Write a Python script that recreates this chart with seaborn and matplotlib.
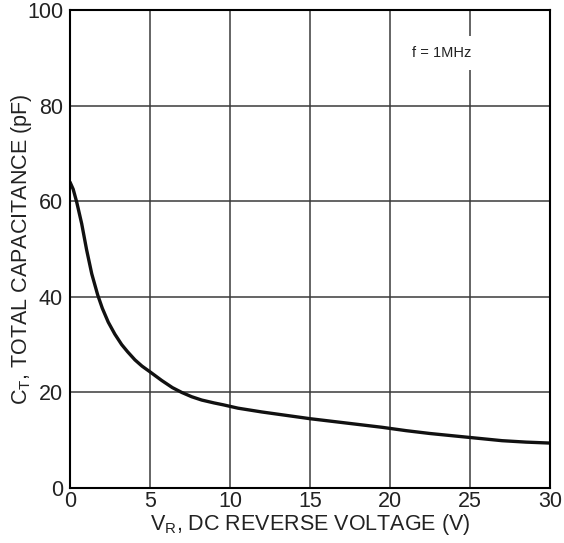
import matplotlib
matplotlib.use("Agg")
import matplotlib.pyplot as plt
import seaborn as sns
import pandas as pd

# Data
voltage = [0.0, 0.2, 0.42, 0.73, 1.04, 1.36, 1.73, 2.02, 2.39, 2.8, 3.23, 3.6, 4.06, 4.5, 5.0, 5.73, 6.4, 6.98, 7.6, 8.23, 9.0, 9.58,
           10.5, 12.0, 13.5, 15.0, 16.5, 18.0, 19.5, 21.0, 22.5, 24.0, 25.5, 27.0, 28.5, 30.0]
capacitance = [64.0, 62.5, 59.8, 55.3, 49.8, 44.8, 40.4, 37.6, 34.7, 32.2, 30.0, 28.5, 26.8, 25.5, 24.3, 22.5, 21.0, 20.0, 19.1, 18.4, 17.8, 17.4,
               16.7, 15.9, 15.2, 14.5, 13.9, 13.3, 12.7, 12.0, 11.4, 10.9, 10.4, 9.9, 9.6, 9.4]
x_ticks = [0, 5, 10, 15, 20, 25, 30]
y_ticks = [0, 20, 40, 60, 80, 100]

df = pd.DataFrame({"V": voltage, "C": capacitance})

sns.set_theme(style="white")
plt.rcParams["font.family"] = ["Liberation Sans", "DejaVu Sans"]

fig = plt.figure(figsize=(5.64, 5.43), dpi=100)
ax = fig.add_axes([70 / 564, 1 - 488 / 543, 480 / 564, 478 / 543])

ax.set_xlim(0, 30)
ax.set_ylim(0, 100)
ax.set_xticks(x_ticks)
ax.set_yticks(y_ticks)
ax.grid(True, color="#3a3a3a", linewidth=1.1)
ax.set_axisbelow(True)

sns.lineplot(data=df, x="V", y="C", ax=ax, color="#111111", linewidth=2.4)
ax.lines[-1].set_solid_joinstyle("round")

for s in ax.spines.values():
    s.set_color("black")
    s.set_linewidth(1.5)
    s.set_visible(True)

ax.tick_params(axis="both", length=0, labelsize=15.5, colors="#222222")
ax.tick_params(axis="x", pad=2)
ax.tick_params(axis="y", pad=5)

ax.set_xlabel(r"V$_\mathregular{R}$, DC REVERSE VOLTAGE (V)", fontsize=15.5, color="#222222", labelpad=0)
ax.set_ylabel(r"C$_\mathregular{T}$, TOTAL CAPACITANCE (pF)", fontsize=15.5, color="#222222")
ax.yaxis.set_label_coords(-0.102, 0.5)
ax.yaxis.label.set_va("center")

ax.text(23.25, 91.0, "f = 1MHz", fontsize=10.5, ha="center", va="center", color="#222222",
        bbox=dict(facecolor="white", edgecolor="none", pad=7), zorder=3)

fig.savefig("out.png", dpi=100)
